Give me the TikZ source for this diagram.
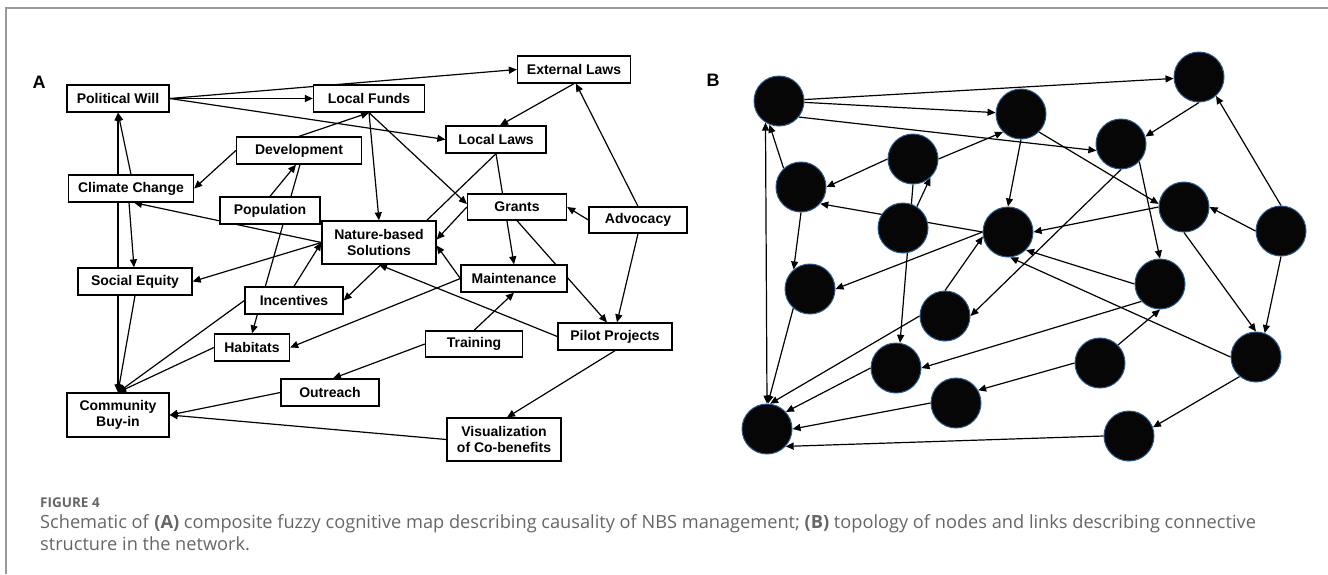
\documentclass[tikz,border=0pt]{standalone}
\usepackage{fontspec}
\setmainfont{Liberation Sans}
\newfontfamily\capfont{Open Sans}
\usetikzlibrary{arrows.meta,backgrounds,calc}
\definecolor{framegray}{HTML}{9A9A9A}
\definecolor{capgray}{HTML}{666666}
\definecolor{nodeblue}{HTML}{2B5C8F}
\definecolor{nodefill}{HTML}{060606}
\begin{document}
\begin{tikzpicture}[x=1pt,y=-1pt,
  box/.style={draw=black,line width=1.3pt,fill=white,font=\fontsize{14}{16}\selectfont\bfseries,align=center,inner sep=0pt,minimum height=27pt},
  dot/.style={circle,draw=nodeblue,line width=1pt,fill=nodefill,minimum size=50pt,inner sep=0pt},
  link/.style={line width=1.2pt,-{Triangle[length=8pt,width=7pt]}},
  dlink/.style={line width=1.2pt,{Triangle[length=8pt,width=7pt]}-{Triangle[length=8pt,width=7pt]}},
  panel/.style={font=\fontsize{18}{18}\selectfont\bfseries,inner sep=0pt},
  captext/.style={anchor=base west,inner sep=0pt,text=capgray,font=\capfont\fontsize{18.2}{22}\selectfont}
]
\useasboundingbox (0,0) rectangle (1328,574);
\draw[framegray,line width=2pt] (6,574) -- (6,7.5) -- (1329,7.5);

% ---------- Panel A ----------
\node[panel] (labA) at (39,82) {A};
\node[box,minimum width=102pt] (pw) at (118,98.5) {Political Will};
\node[box,minimum width=111pt] (lf) at (369,98.5) {Local Funds};
\node[box,minimum width=113pt] (el) at (574,69.5) {External Laws};
\node[box,minimum width=100pt] (ll) at (496,139.5) {Local Laws};
\node[box,minimum width=125pt] (dev) at (299,150.5) {Development};
\node[box,minimum width=125pt] (cc) at (131,188.5) {Climate Change};
\node[box,minimum width=100pt] (pop) at (270,210.5) {Population};
\node[box,minimum width=99pt,minimum height=26pt] (grants) at (517,207) {Grants};
\node[box,minimum width=98pt,minimum height=26pt] (adv) at (638,220) {Advocacy};
\node[box,minimum width=114pt,minimum height=43pt] (nbs) at (379,242.5) {Nature-based\\Solutions};
\node[box,minimum width=114pt] (se) at (135,281.5) {Social Equity};
\node[box,minimum width=106pt] (maint) at (514,278.5) {Maintenance};
\node[box,minimum width=98pt] (inc) at (294,300.5) {Incentives};
\node[box,minimum width=75pt] (hab) at (252,347.5) {Habitats};
\node[box,minimum width=97pt,minimum height=26pt] (train) at (474,344) {Training};
\node[box,minimum width=114pt] (pilot) at (615,336.5) {Pilot Projects};
\node[box,minimum width=98pt] (outr) at (330,392.5) {Outreach};
\node[box,minimum width=102pt,minimum height=44pt] (cb) at (118,415) {Community\\Buy-in};
\node[box,minimum width=114pt,minimum height=43pt] (vis) at (504,439.5) {Visualization\\of Co-benefits};

\begin{pgfonlayer}{background}
\draw[link] (pw.east) -- (el.west);
\draw[link] (pw.east) -- (lf.west);
\draw[link] (pw.east) -- (ll.west);
\draw[link] (el.south) -- ($(ll.north)+(4,0)$);
\draw[link] (adv.north) -- ($(el.south)+(2,0)$);
\draw[link] (dev.north) -- (lf.south);
\draw[link] (dev.west) -- (cc.east);
\draw[link] (cc.north) -- (pw.south);
\draw[dlink] (pw.south) -- (cb.north);
\draw[link] ($(cc.south)+(-2,0)$) -- ($(se.north)+(-1,0)$);
\draw[link] (nbs.west) -- ($(cc.south)+(3,0)$);
\draw[link] (pop.north) -- ($(dev.south)+(-3,0)$);
\draw[link] ($(dev.south)+(1,0)$) -- (hab.north);
\draw[link] (lf.south) -- (nbs.north);
\draw[link] (lf.south) -- ($(grants.west)+(0,-3)$);
\draw[link] (ll.south) -- (maint.north);
\draw[link] (ll.south) -- (inc.east);
\draw[link] (grants.west) -- ($(nbs.east)+(0,-3)$);
\draw[link] (adv.west) -- (grants.east);
\draw[link] (grants.south) -- ($(pilot.north)+(-8,0)$);
\draw[link] (adv.south) -- ($(pilot.north)+(2,0)$);
\draw[link] (maint.west) -- ($(nbs.east)+(0,3)$);
\draw[link] (pilot.west) -- (nbs.south);
\draw[link] (maint.west) -- (hab.east);
\draw[link] (train.north) -- (maint.south);
\draw[link] (train.west) -- ($(outr.north)+(3,0)$);
\draw[link] (pilot.south) -- ($(vis.north)+(3,0)$);
\draw[link] (vis.west) -- (cb.east);
\draw[link] (outr.west) -- (cb.east);
\draw[link] (hab.west) -- (cb.north);
\draw[link] (inc.west) -- (cb.north);
\draw[link] (se.south) -- (cb.north);
\draw[link] (nbs.west) -- (se.east);
\draw[link] (inc.north) -- (nbs.west);
\end{pgfonlayer}

% ---------- Panel B ----------
\node[panel] (labB) at (713,80) {B};
\node[dot] (b1) at (779,101) {};
\node[dot] (b2) at (1021,114) {};
\node[dot] (b3) at (1199,77) {};
\node[dot] (b4) at (1121,144) {};
\node[dot] (b5) at (913,159) {};
\node[dot] (b6) at (801,187) {};
\node[dot] (b7) at (903,228) {};
\node[dot] (b8) at (1008,232) {};
\node[dot] (b9) at (1184,207) {};
\node[dot] (b10) at (1281,231) {};
\node[dot] (b11) at (810,289) {};
\node[dot] (b12) at (1160,284) {};
\node[dot] (b13) at (945,316) {};
\node[dot] (b14) at (896,368) {};
\node[dot] (b15) at (1100,363) {};
\node[dot] (b16) at (1256,357) {};
\node[dot] (b17) at (956,403) {};
\node[dot] (b18) at (767,429) {};
\node[dot] (b19) at (1129,436) {};

\begin{pgfonlayer}{background}
\draw[link] (b1) -- (b3);
\draw[link] (b1) -- (b2);
\draw[link] (b1.-39) -- (b4.195);
\draw[link] (b3.south) -- (b4.17);
\draw[link] (b10.north) -- (b3.-48);
\draw[link] (b5.east) -- (b2.225);
\draw[link] (b5.west) -- (b6.east);
\draw[link] (b6.133) -- (b1.248);
\draw[dlink] (b18.north) -- (b1.238);
\draw[link] (b6.south) -- (b11.130);
\draw[link] (b8.west) -- (b6.-41);
\draw[link] (b7.57) -- (b5.-47);
\draw[link] (b5.south) -- (b14.81);
\draw[link] (b2.south) -- (b8.north);
\draw[link] (b2.-45) -- (b9.173);
\draw[link] (b4.-44) -- (b12.north);
\draw[link] (b4.south) -- (b13.east);
\draw[link] (b9.west) -- (b8.east);
\draw[link] (b10.west) -- (b9.east);
\draw[link] (b9.south) -- (b16.north);
\draw[link] (b10.south) -- (b16.70);
\draw[link] (b12.west) -- (b8.-45);
\draw[link] (b16.west) -- (b8.-85);
\draw[link] (b12.223) -- (b14.east);
\draw[link] (b15.45) -- (b12.south);
\draw[link] (b15.west) -- (b17.30);
\draw[link] (b16.230) -- (b19.20);
\draw[link] (b19.west) -- (b18.-43);
\draw[link] (b17.west) -- (b18.east);
\draw[link] (b14.west) -- (b18.42);
\draw[link] (b13.west) -- (b18.83);
\draw[link] (b11.229) -- (b18.88);
\draw[link] (b8.west) -- (b11.east);
\draw[link] (b13.north) -- (b8.190);
\end{pgfonlayer}

% ---------- Caption ----------
\node[captext,font=\capfont\bfseries\fontsize{13.5}{15}\selectfont] (fig) at (40,507) {FIGURE 4};
\node[captext] (cap1) at (40,528) {Schematic of \textbf{(A)} composite fuzzy cognitive map describing causality of NBS management; \textbf{(B)} topology of nodes and links describing connective};
\node[captext] (cap2) at (40,550) {structure in the network.};
\end{tikzpicture}
\end{document}
